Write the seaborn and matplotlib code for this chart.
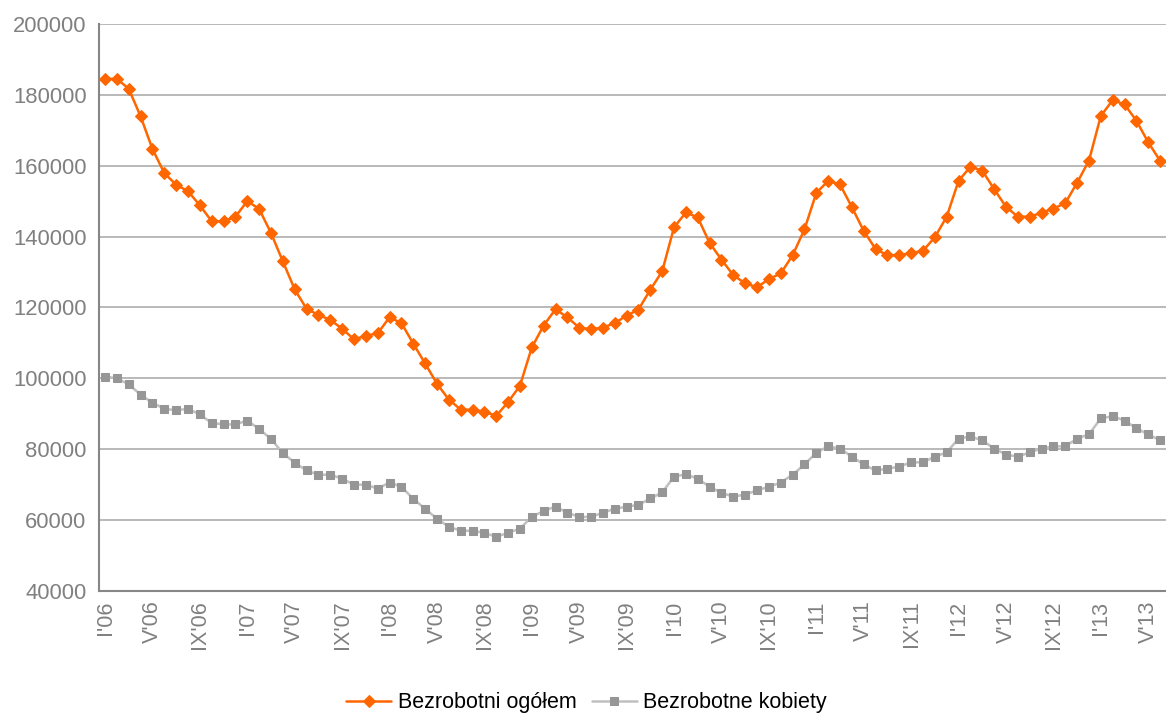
import matplotlib
matplotlib.use("Agg")
import matplotlib.pyplot as plt
import seaborn as sns
import pandas as pd
import numpy as np

# miesiące I'06 - VI'13
ogolem = [184500, 184500, 181700, 173900, 164700, 157900, 154600, 152800, 148800, 144300,
          144300, 145600, 150000, 147800, 141000, 133000, 125100, 119600, 117900, 116500,
          114000, 111000, 112000, 112700, 117200, 115600, 109800, 104200, 98500, 94000,
          91200, 91100, 90600, 89400, 93300, 97900, 108700, 114900, 119500, 117200,
          114300, 113900, 114300, 115600, 117700, 119400, 125000, 130200, 142600, 146800,
          145400, 138200, 133500, 129100, 126800, 125700, 128000, 129600, 134700, 142000,
          152300, 155700, 154700, 148300, 141600, 136500, 134700, 134800, 135300, 136000,
          139800, 145600, 155700, 159700, 158600, 153400, 148400, 145600, 145600, 146700,
          147900, 149400, 155200, 161400, 174000, 178500, 177300, 172700, 166600, 161400]

kobiety = [100500, 100000, 98300, 95400, 93100, 91400, 91000, 91400, 89800, 87400,
           87000, 87000, 88100, 85700, 82900, 78900, 76200, 74000, 72800, 72800,
           71700, 70000, 70000, 68900, 70600, 69400, 66000, 63200, 60400, 58100,
           57000, 57000, 56400, 55300, 56400, 57600, 60900, 62600, 63800, 62100,
           60900, 60900, 62100, 63200, 63800, 64300, 66100, 67800, 72300, 72900,
           71700, 69400, 67700, 66600, 67200, 68400, 69400, 70600, 72800, 75700,
           79000, 80800, 80200, 77900, 75700, 74000, 74500, 75100, 76300, 76300,
           77900, 79100, 83000, 83600, 82500, 80200, 78500, 77900, 79100, 80200,
           80800, 80800, 83000, 84200, 88700, 89300, 88100, 85900, 84200, 82500]

etykiety = ["I'06", "V'06", "IX'06", "I'07", "V'07", "IX'07", "I'08", "V'08", "IX'08",
            "I'09", "V'09", "IX'09", "I'10", "V'10", "IX'10", "I'11", "V'11", "IX'11",
            "I'12", "V'12", "IX'12", "I'13", "V'13"]

sns.set_style("white")
plt.rcParams['font.family'] = ['Liberation Sans', 'DejaVu Sans']

df = pd.DataFrame({'m': np.arange(len(ogolem)), 'ogolem': ogolem, 'kobiety': kobiety})

fig = plt.figure(figsize=(11.66, 7.24), dpi=100)
ax = fig.add_axes([0.085, 0.1837, 0.915, 0.7833])

gray_txt = '#808080'
ax.set_ylim(40000, 200000)
ax.set_yticks(np.arange(40000, 200001, 20000))
ax.yaxis.grid(True, color='#a6a6a6', linewidth=1.1)
ax.set_axisbelow(True)

sns.lineplot(data=df, x='m', y='kobiety', ax=ax, color='#c0c0c0', linewidth=1.8,
             marker='s', markersize=5.8, markerfacecolor='#969696', markeredgecolor='#969696',
             label='Bezrobotne kobiety', clip_on=False, zorder=3)
sns.lineplot(data=df, x='m', y='ogolem', ax=ax, color='#ff6600', linewidth=1.8,
             marker='D', markersize=6.5, markerfacecolor='#ff6600', markeredgecolor='#ff6600',
             label='Bezrobotni ogółem', clip_on=False, zorder=4)

ax.set_xlim(-0.5, 89.0)
ax.set_xticks(np.arange(0, len(ogolem), 4))
ax.set_xticklabels(etykiety, rotation=90, color=gray_txt, fontsize=15.5)
ax.set_xticks(np.arange(-0.5, len(ogolem), 1), minor=True)
ax.tick_params(axis='x', which='major', length=0, pad=7)
ax.tick_params(axis='x', which='minor', length=5, color='#868686', width=1, direction='out')
ax.tick_params(axis='y', length=5, color='#868686', width=1, direction='out',
               labelcolor=gray_txt, labelsize=15.8, pad=4)
ax.set_yticklabels([str(v) for v in np.arange(40000, 200001, 20000)])
ax.set_xlabel('')
ax.set_ylabel('')

for s in ['top', 'right']:
    ax.spines[s].set_visible(False)
for s in ['left', 'bottom']:
    ax.spines[s].set_color('#868686')
    ax.spines[s].set_linewidth(1.5)

h, l = ax.get_legend_handles_labels()
leg = ax.legend([h[1], h[0]], [l[1], l[0]], loc='lower center', bbox_to_anchor=(0.503, 0.0),
                bbox_transform=fig.transFigure, ncol=2, frameon=False, fontsize=15.5,
                handlelength=2.1, columnspacing=0.7, handletextpad=0.3, borderaxespad=0.1)
for t in leg.get_texts():
    t.set_color('black')

fig.savefig('out.png', dpi=100)
